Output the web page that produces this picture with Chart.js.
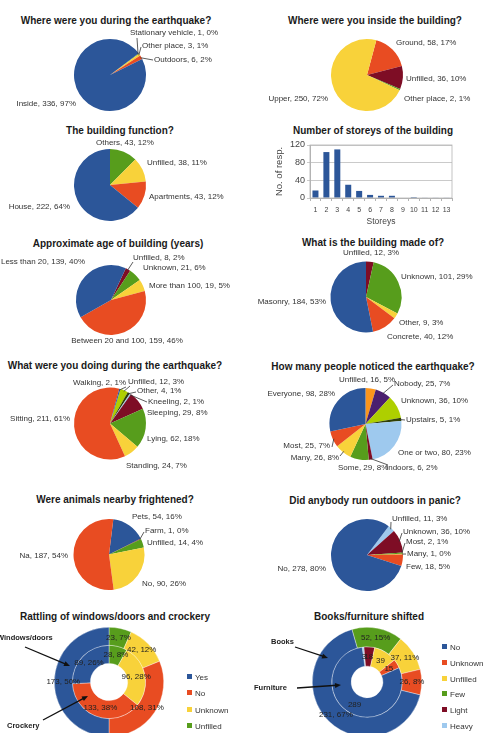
<!DOCTYPE html>
<html>
<head>
<meta charset="utf-8">
<script src="https://cdn.jsdelivr.net/npm/chart.js@4.4.1/dist/chart.umd.min.js"></script>
<style>
  html, body { margin: 0; padding: 0; background: #fff; }
  #page { position: relative; width: 483px; height: 733px; overflow: hidden; background: #fff;
          font-family: "Liberation Sans", Arial, sans-serif; }
  .title { position: absolute; font-weight: bold; font-size: 10px; color: #1a1a1a; white-space: nowrap;
           transform: translate(-50%, -50%); }
  .lg { position: absolute; font-size: 8px; color: #333; white-space: nowrap; line-height: 10px; }
  .lg span { display: inline-block; width: 5px; height: 5px; margin-right: 3px; vertical-align: 1px; }
</style>
</head>
<body>
<div id="page"></div>
<script>
  // palette
  const blue = "#2c5699", orange = "#e84c22", yellow = "#f8d23a", green = "#579d1c",
    darkred = "#7e0d25", lightblue = "#9ec9ee", darkgreen = "#314004",
    yellowgreen = "#aecf00", purple = "#4b1f6f", lightorange = "#fb951c";

  // --- data (slices listed clockwise from the start angle) ---
  const locLabels = ["Stationary vehicle", "Other place", "Outdoors", "Inside"];
  const locValues = [1, 3, 6, 336];

  const floorLabels = ["Ground", "Unfilled", "Other place", "Upper"];
  const floorValues = [58, 36, 2, 250];

  const funcLabels = ["Others", "Unfilled", "Apartments", "House"];
  const funcValues = [43, 38, 43, 222];

  const storeyLabels = ["1", "2", "3", "4", "5", "6", "7", "8", "9", "10", "11", "12", "13"];
  const storeyValues = [17, 104, 110, 30, 16, 7, 5, 5, 0, 2, 1, 1, 1];

  const ageLabels = ["Unfilled", "Unknown", "More than 100", "Between 20 and 100", "Less than 20"];
  const ageValues = [8, 21, 19, 159, 139];

  const matLabels = ["Unfilled", "Unknown", "Other", "Concrete", "Masonry"];
  const matValues = [12, 101, 9, 40, 184];

  const actLabels = ["Unfilled", "Other", "Kneeling", "Sleeping", "Lying", "Standing", "Sitting", "Walking"];
  const actValues = [12, 4, 2, 29, 62, 24, 211, 2];

  const noticeLabels = ["Unfilled", "Nobody", "Unknown", "Upstairs", "One or two", "Indoors", "Some", "Many", "Most", "Everyone"];
  const noticeValues = [16, 25, 36, 5, 80, 6, 29, 26, 25, 98];

  const animalLabels = ["Pets", "Farm", "Unfilled", "No", "Na"];
  const animalValues = [54, 1, 14, 90, 187];

  const panicLabels = ["Unfilled", "Unknown", "Most", "Many", "Few", "No"];
  const panicValues = [11, 36, 2, 1, 18, 278];

  // doughnuts (legend order)
  const rattleLabels = ["Yes", "No", "Unknown", "Unfilled"];
  const rattleColors = [blue, orange, yellow, green];
  const windowValues = [173, 108, 42, 23];
  const crockeryValues = [89, 133, 96, 28];

  const shiftLabels = ["No", "Unknown", "Unfilled", "Few", "Light", "Heavy"];
  const shiftColors = [blue, orange, yellow, green, darkred, lightblue];
  const booksValues = [231, 26, 37, 52, 0, 0];
  const furnitureValues = [289, 15, 39, 0, 18, 3];

  const FONT = '"Liberation Sans", Arial, sans-serif';
  const page = document.getElementById("page");
  Chart.defaults.font.family = FONT;

  function addCanvas(x, y, w, h) {
    const c = document.createElement("canvas");
    c.width = w; c.height = h;
    c.style.cssText = `position:absolute;left:${x}px;top:${y}px;width:${w}px;height:${h}px`;
    page.appendChild(c);
    return c;
  }

  function addTitle(text, x, y) {
    const d = document.createElement("div");
    d.className = "title";
    d.textContent = text;
    d.style.left = x + "px";
    d.style.top = y + "px";
    page.appendChild(d);
  }

  function addLegend(labels, colors, x, y, step) {
    labels.forEach((l, i) => {
      const d = document.createElement("div");
      d.className = "lg";
      d.style.left = x + "px";
      d.style.top = (y + i * step - 5) + "px";
      d.innerHTML = `<span style="background:${colors[i]}"></span>${l}`;
      page.appendChild(d);
    });
  }

  // outside labels "name, value, pct%" with optional leader lines
  const pieLabels = {
    id: "pieLabels",
    afterDatasetsDraw(chart, args, opts) {
      const items = opts.items;
      if (!items) return;
      const ctx = chart.ctx;
      const ds = chart.data.datasets[0];
      const total = ds.data.reduce((a, b) => a + b, 0);
      ctx.save();
      ctx.font = "8px " + FONT;
      ctx.fillStyle = "#333";
      ctx.textBaseline = "middle";
      chart.getDatasetMeta(0).data.forEach((arc, i) => {
        const it = items[i];
        if (!it) return;
        const v = ds.data[i];
        const txt = chart.data.labels[i] + ", " + v + ", " + Math.round(v / total * 100) + "%";
        if (it.leader) {
          const p = arc.getProps(["x", "y", "startAngle", "endAngle", "outerRadius"], true);
          const a = (p.startAngle + p.endAngle) / 2;
          ctx.beginPath();
          ctx.moveTo(p.x + Math.cos(a) * p.outerRadius * 0.97, p.y + Math.sin(a) * p.outerRadius * 0.97);
          ctx.lineTo(it.leader[0], it.leader[1]);
          ctx.strokeStyle = "#333";
          ctx.lineWidth = 0.8;
          ctx.stroke();
        }
        ctx.textAlign = it.align || "left";
        ctx.fillText(txt, it.x, it.y);
      });
      ctx.restore();
    },
  };

  // values inside doughnut rings
  const ringLabels = {
    id: "ringLabels",
    afterDatasetsDraw(chart) {
      const ctx = chart.ctx;
      ctx.save();
      ctx.font = "8px " + FONT;
      ctx.fillStyle = "#222";
      ctx.textAlign = "center";
      ctx.textBaseline = "middle";
      chart.data.datasets.forEach((ds, di) => {
        const total = ds.data.reduce((a, b) => a + b, 0);
        chart.getDatasetMeta(di).data.forEach((arc, i) => {
          const v = ds.data[i];
          if (!v) return;
          const pos = arc.tooltipPosition(true);
          const txt = ds.showPct ? v + ", " + Math.round(v / total * 100) + "%" : String(v);
          ctx.fillText(txt, pos.x, pos.y);
        });
      });
      ctx.restore();
    },
  };

  // bold callout text + arrow
  const callouts = {
    id: "callouts",
    afterDraw(chart, args, opts) {
      const ctx = chart.ctx;
      (opts.items || []).forEach((c) => {
        ctx.save();
        ctx.font = "bold 7.5px " + FONT;
        ctx.fillStyle = "#222";
        ctx.textBaseline = "middle";
        ctx.textAlign = "left";
        ctx.fillText(c.text, c.tx, c.ty);
        const [x1, y1, x2, y2] = c.arrow;
        const ang = Math.atan2(y2 - y1, x2 - x1);
        ctx.strokeStyle = "#111";
        ctx.fillStyle = "#111";
        ctx.lineWidth = 1.3;
        ctx.beginPath();
        ctx.moveTo(x1, y1);
        ctx.lineTo(x2 - Math.cos(ang) * 4, y2 - Math.sin(ang) * 4);
        ctx.stroke();
        ctx.beginPath();
        ctx.moveTo(x2, y2);
        ctx.lineTo(x2 - Math.cos(ang) * 6 - Math.sin(ang) * 2.5, y2 - Math.sin(ang) * 6 + Math.cos(ang) * 2.5);
        ctx.lineTo(x2 - Math.cos(ang) * 6 + Math.sin(ang) * 2.5, y2 - Math.sin(ang) * 6 - Math.cos(ang) * 2.5);
        ctx.closePath();
        ctx.fill();
        ctx.restore();
      });
    },
  };

  const frame = {
    id: "frame",
    afterDraw(chart) {
      const a = chart.chartArea, ctx = chart.ctx;
      ctx.save();
      ctx.strokeStyle = "#b3b3b3";
      ctx.lineWidth = 0.8;
      ctx.strokeRect(a.left, a.top, a.right - a.left, a.bottom - a.top);
      ctx.restore();
    },
  };

  function pie(p) {
    const [x, y, w, h] = p.box;
    addTitle(p.title, p.titleAt[0], p.titleAt[1]);
    return new Chart(addCanvas(x, y, w, h), {
      type: "pie",
      data: {
        labels: p.labels,
        datasets: [{ data: p.values, backgroundColor: p.colors, borderWidth: 0 }],
      },
      options: {
        responsive: false,
        devicePixelRatio: 1,
        animation: false,
        rotation: p.rotation,
        layout: { padding: { left: p.cx - p.r, top: p.cy - p.r, right: w - p.cx - p.r, bottom: h - p.cy - p.r } },
        plugins: { legend: { display: false }, tooltip: { enabled: false }, pieLabels: { items: p.text } },
      },
      plugins: [pieLabels],
    });
  }

  function rings(p) {
    const [x, y, w, h] = p.box;
    addTitle(p.title, p.titleAt[0], p.titleAt[1]);
    const rev = (a) => a.slice().reverse(); // legend order runs anticlockwise
    return new Chart(addCanvas(x, y, w, h), {
      type: "doughnut",
      data: {
        labels: rev(p.labels),
        datasets: [
          { data: rev(p.outer), backgroundColor: rev(p.colors), borderWidth: 0.6, borderColor: "rgba(255,255,255,0.6)", rotation: p.rotOuter, showPct: true },
          { data: rev(p.inner), backgroundColor: rev(p.colors), borderWidth: 0.6, borderColor: "rgba(255,255,255,0.6)", rotation: p.rotInner, showPct: p.innerPct },
        ],
      },
      options: {
        responsive: false,
        devicePixelRatio: 1,
        animation: false,
        cutout: p.cutout,
        layout: { padding: { left: p.cx - p.r, top: p.cy - p.r, right: w - p.cx - p.r, bottom: h - p.cy - p.r } },
        plugins: { legend: { display: false }, tooltip: { enabled: false }, callouts: { items: p.callouts } },
      },
      plugins: [ringLabels, callouts],
    });
  }

  pie({
    title: "Where were you during the earthquake?", titleAt: [116, 20],
    box: [0, 0, 242, 115], cx: 110, cy: 75, r: 36, rotation: 53,
    labels: locLabels, values: locValues, colors: [green, yellow, orange, blue],
    text: [
      { x: 130, y: 33, leader: [137, 38] },
      { x: 142, y: 46, leader: [141, 47] },
      { x: 154, y: 60, leader: [153, 60] },
      { x: 76, y: 104, align: "right" },
    ],
  });

  pie({
    title: "Where were you inside the building?", titleAt: [375, 20],
    box: [242, 0, 241, 115], cx: 125, cy: 75, r: 36, rotation: 15,
    labels: floorLabels, values: floorValues, colors: [orange, darkred, green, yellow],
    text: [
      { x: 154, y: 43 },
      { x: 164, y: 79 },
      { x: 162, y: 99 },
      { x: 86, y: 99, align: "right" },
    ],
  });

  pie({
    title: "The building function?", titleAt: [120, 130],
    box: [0, 115, 242, 115], cx: 110, cy: 70, r: 36, rotation: 0,
    labels: funcLabels, values: funcValues, colors: [green, yellow, orange, blue],
    text: [
      { x: 96, y: 28 },
      { x: 147, y: 48 },
      { x: 149, y: 82 },
      { x: 70, y: 92, align: "right" },
    ],
  });

  // storeys bar chart
  addTitle("Number of storeys of the building", 373, 130);
  new Chart(addCanvas(242, 115, 241, 115), {
    type: "bar",
    data: {
      labels: storeyLabels,
      datasets: [{ data: storeyValues, backgroundColor: blue, barPercentage: 0.55, categoryPercentage: 1 }],
    },
    options: {
      responsive: false,
      devicePixelRatio: 1,
      animation: false,
      layout: { padding: { left: 30, top: 30, right: 31, bottom: 0 } },
      scales: {
        x: {
          grid: { display: true, drawOnChartArea: false, tickLength: 3, color: "#b3b3b3" },
          border: { color: "#b3b3b3" },
          ticks: { font: { size: 7 }, color: "#444", padding: 5, maxRotation: 0, autoSkip: false },
          title: { display: true, text: "Storeys", font: { size: 8.5 }, color: "#444", padding: { top: 0, bottom: 3 } },
          afterFit: (s) => { s.height = 32; },
        },
        y: {
          min: 0, max: 120,
          ticks: { stepSize: 20, font: { size: 9 }, color: "#444", padding: 2, callback: (v) => (v % 40 === 0 ? v : "") },
          grid: { color: "#b3b3b3", tickLength: 3, lineWidth: 0.7 },
          border: { color: "#b3b3b3" },
          title: { display: true, text: "No. of resp.", font: { size: 9.5 }, color: "#444", padding: { top: 2, bottom: 0 } },
          afterFit: (s) => { s.width = 38; },
        },
      },
      plugins: { legend: { display: false }, tooltip: { enabled: false } },
    },
    plugins: [frame],
  });

  pie({
    title: "Approximate age of building (years)", titleAt: [118, 243],
    box: [0, 230, 242, 120], cx: 111, cy: 70, r: 35, rotation: 25,
    labels: ageLabels, values: ageValues, colors: [darkred, green, yellow, orange, blue],
    text: [
      { x: 133, y: 28, leader: [133, 32] },
      { x: 143, y: 38 },
      { x: 149, y: 56 },
      { x: 127, y: 111, align: "center" },
      { x: 85, y: 32, align: "right" },
    ],
  });

  pie({
    title: "What is the building made of?", titleAt: [373, 242],
    box: [242, 230, 241, 120], cx: 124, cy: 67, r: 35.5, rotation: 0,
    labels: matLabels, values: matValues, colors: [darkred, green, yellow, orange, blue],
    text: [
      { x: 129, y: 23, align: "center" },
      { x: 159, y: 47 },
      { x: 157, y: 93 },
      { x: 145, y: 107 },
      { x: 84, y: 72, align: "right" },
    ],
  });

  pie({
    title: "What were you doing during the earthquake?", titleAt: [115, 365],
    box: [0, 350, 242, 130], cx: 110, cy: 73.5, r: 36, rotation: 17,
    labels: actLabels, values: actValues,
    colors: [yellowgreen, darkgreen, lightblue, darkred, green, yellow, orange, blue],
    text: [
      { x: 128, y: 32, leader: [130, 36] },
      { x: 137, y: 41, leader: [136, 42] },
      { x: 148, y: 52, leader: [147, 52] },
      { x: 147, y: 63 },
      { x: 147, y: 89 },
      { x: 126, y: 116 },
      { x: 70, y: 69, align: "right" },
      { x: 126, y: 33, align: "right", leader: [126, 37] },
    ],
  });

  pie({
    title: "How many people noticed the earthquake?", titleAt: [373, 366],
    box: [242, 350, 241, 130], cx: 123.5, cy: 74, r: 36, rotation: 0,
    labels: noticeLabels, values: noticeValues,
    colors: [lightorange, purple, yellowgreen, darkgreen, lightblue, darkred, green, yellow, orange, blue],
    text: [
      { x: 97, y: 30 },
      { x: 152, y: 34, leader: [151, 35] },
      { x: 159, y: 51 },
      { x: 164, y: 70, leader: [163, 70] },
      { x: 156, y: 103 },
      { x: 144, y: 118, leader: [146, 115] },
      { x: 96, y: 118 },
      { x: 97, y: 108, align: "right", leader: [98, 106] },
      { x: 88, y: 96, align: "right", leader: [90, 97] },
      { x: 93, y: 44, align: "right" },
    ],
  });

  pie({
    title: "Were animals nearby frightened?", titleAt: [115, 499],
    box: [0, 480, 242, 115], cx: 109, cy: 74.5, r: 35.5, rotation: 7,
    labels: animalLabels, values: animalValues, colors: [blue, darkred, green, yellow, orange],
    text: [
      { x: 132, y: 37 },
      { x: 145, y: 51, leader: [144, 52] },
      { x: 147, y: 63 },
      { x: 142, y: 104 },
      { x: 68, y: 76, align: "right" },
    ],
  });

  pie({
    title: "Did anybody run outdoors in panic?", titleAt: [375, 500],
    box: [242, 480, 241, 115], cx: 125, cy: 75, r: 36, rotation: 37,
    labels: panicLabels, values: panicValues, colors: [lightblue, darkred, green, yellow, orange, blue],
    text: [
      { x: 150, y: 39, leader: [149, 42] },
      { x: 161, y: 52, leader: [160, 53] },
      { x: 164, y: 62, leader: [163, 63] },
      { x: 165, y: 74, leader: [164, 74] },
      { x: 164, y: 87 },
      { x: 84, y: 89, align: "right" },
    ],
  });

  rings({
    title: "Rattling of windows/doors and crockery", titleAt: [115, 616],
    box: [0, 595, 242, 150], cx: 109, cy: 87, r: 55, cutout: "34%",
    labels: rattleLabels, colors: rattleColors, outer: windowValues, inner: crockeryValues,
    rotOuter: 0, rotInner: 0, innerPct: true,
    callouts: [
      { text: "Windows/doors", tx: -3, ty: 43, arrow: [25, 52, 70, 71] },
      { text: "Crockery", tx: 7, ty: 131, arrow: [43, 125, 88, 101] },
    ],
  });
  addLegend(rattleLabels, rattleColors, 187, 678, 16.4);

  rings({
    title: "Books/furniture shifted", titleAt: [369, 616],
    box: [242, 595, 241, 150], cx: 125, cy: 87, r: 55, cutout: "29%",
    labels: shiftLabels, colors: shiftColors, outer: booksValues, inner: furnitureValues,
    rotOuter: -16, rotInner: -8, innerPct: false,
    callouts: [
      { text: "Books", tx: 29, ty: 47, arrow: [53, 52, 86, 63] },
      { text: "Furniture", tx: 12, ty: 93, arrow: [55, 93, 99, 90] },
    ],
  });
  addLegend(shiftLabels, shiftColors, 442, 648, 15.8);
</script>
</body>
</html>
